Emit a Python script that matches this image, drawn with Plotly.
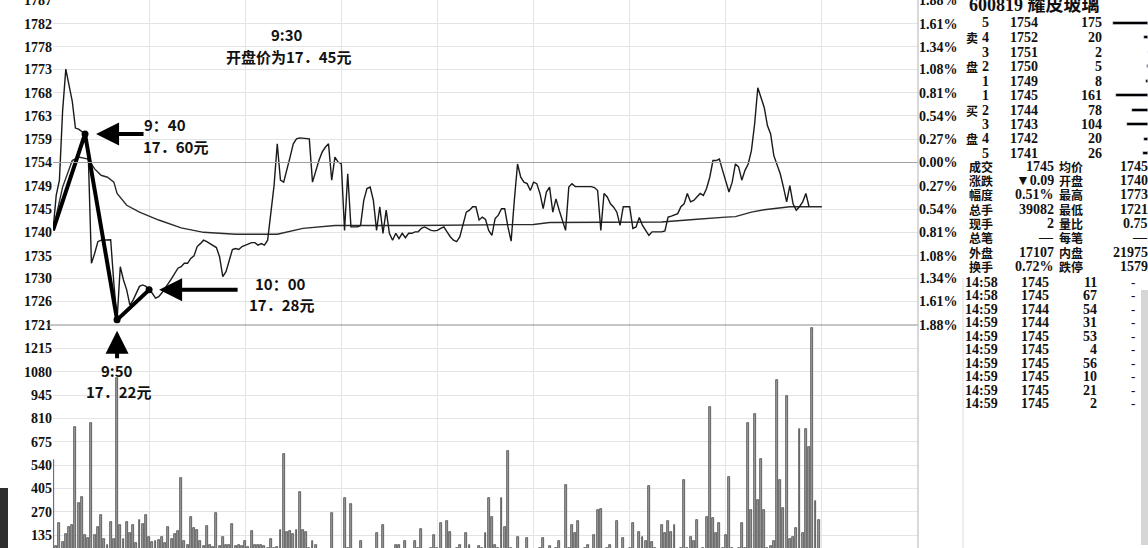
import plotly.graph_objects as go

W, H = 1148, 548

# ---------------- data ----------------
prev_close = 1754
pct_levels = [-1.88, -1.61, -1.34, -1.08, -0.81, -0.54, -0.27, 0.0,
              0.27, 0.54, 0.81, 1.08, 1.34, 1.61, 1.88]
price_tick_text = ["1721", "1726", "1730", "1735", "1740", "1745", "1749", "1754",
                   "1759", "1763", "1768", "1773", "1778", "1782", "1787"]
pct_tick_text = ["1.88%", "1.61%", "1.34%", "1.08%", "0.81%", "0.54%", "0.27%", "0.00%",
                 "0.27%", "0.54%", "0.81%", "1.08%", "1.34%", "1.61%", "1.88%"]
vol_tick_vals = [135, 270, 405, 540, 675, 810, 945, 1080, 1215]
time_grid = [30, 60, 90, 120, 150, 180, 210, 240]

price_values = [
    1740.2, 1747.3, 1750.4, 1764.5, 1773.0, 1769.6, 1766.5, 1761.0, 1760.8, 1760.3,
    1759.8, 1755.8, 1733.5, 1735.5, 1737.9, 1738.2, 1738.2, 1738.2, 1738.3, 1729.4,
    1722.0, 1732.8, 1730.1, 1728.1, 1725.0, 1726.0, 1727.4, 1728.8, 1729.1, 1728.8,
    1728.1, 1727.4, 1726.4, 1726.7, 1727.5, 1728.6, 1729.4, 1730.4, 1731.5, 1732.5,
    1732.8, 1733.5, 1733.5, 1734.5, 1735.0, 1736.9, 1737.5, 1738.2, 1737.9, 1737.5,
    1737.0, 1736.7, 1734.8, 1730.8, 1731.8, 1734.2, 1736.3, 1736.5, 1736.3, 1736.9,
    1737.2, 1737.5, 1737.7, 1737.7, 1737.2, 1737.5, 1737.2, 1738.2, 1743.6, 1749.3,
    1757.8, 1750.4, 1750.0, 1752.4, 1755.1, 1757.8, 1758.8, 1759.0, 1758.9, 1758.8,
    1758.8, 1750.0, 1752.4, 1754.4, 1756.1, 1757.1, 1757.8, 1750.4, 1755.1, 1754.1,
    1753.7, 1740.2, 1751.7, 1740.9, 1740.9, 1740.9, 1741.2, 1746.3, 1748.7, 1749.0,
    1746.3, 1740.2, 1745.0, 1739.6, 1744.3, 1739.6, 1738.2, 1739.6, 1738.5, 1739.6,
    1738.7, 1739.6, 1739.6, 1739.9, 1739.9, 1740.6, 1740.9, 1740.6, 1740.2, 1740.1,
    1740.2, 1740.6, 1740.9, 1739.9, 1738.9, 1738.2, 1737.9, 1738.9, 1741.6, 1743.9,
    1744.3, 1745.0, 1745.0, 1742.3, 1742.9, 1742.4, 1740.2, 1739.2, 1742.6, 1743.3,
    1744.6, 1744.6, 1740.9, 1738.0, 1746.3, 1753.7, 1751.0, 1750.0, 1749.7, 1748.3,
    1750.0, 1749.7, 1747.7, 1744.6, 1748.0, 1749.0, 1743.9, 1746.6, 1744.3, 1742.3,
    1740.2, 1749.0, 1749.7, 1749.1, 1749.1, 1749.1, 1749.1, 1749.1, 1749.1, 1748.9,
    1748.3, 1740.2, 1747.7, 1747.0, 1745.6, 1744.9, 1743.9, 1741.2, 1745.0, 1745.0,
    1745.0, 1740.6, 1740.9, 1742.8, 1741.2, 1740.2, 1739.2, 1739.9, 1739.9, 1739.9,
    1739.9, 1740.1, 1742.9, 1743.1, 1743.3, 1743.6, 1745.0, 1745.6, 1747.7, 1746.0,
    1746.3, 1747.0, 1747.7, 1747.3, 1748.7, 1751.0, 1754.4, 1754.4, 1754.7, 1752.4,
    1750.0, 1748.0, 1750.0, 1753.7, 1753.1, 1750.4, 1752.4, 1753.7, 1756.4, 1761.8,
    1769.2, 1767.2, 1765.2, 1761.5, 1759.8, 1755.4, 1753.4, 1751.7, 1749.0, 1746.0,
    1749.3, 1745.6, 1744.3, 1745.0, 1746.0, 1747.7, 1745.0,
]
price_minutes = list(range(len(price_values)))

avg_minutes = [0, 3, 6, 8, 11, 13, 15, 17, 19, 20, 23, 27, 33, 40, 47, 57, 70, 78, 88,
               114, 150, 155, 190, 195, 200, 210, 213, 218, 222, 230, 240]
avg_values = [1740.2, 1749.0, 1754.4, 1755.1, 1754.7, 1752.7, 1751.4, 1751.0, 1750.0,
              1747.7, 1745.3, 1743.9, 1742.3, 1740.7, 1739.8, 1739.4, 1739.4, 1740.6,
              1741.2, 1741.2, 1741.4, 1741.8, 1741.9, 1742.1, 1742.4, 1742.9, 1743.0,
              1743.9, 1744.4, 1745.0, 1745.0]

volume_values = [
    569, 70, 206, 95, 140, 180, 195, 758, 318, 357,
    135, 120, 785, 135, 183, 251, 113, 80, 208, 113,
    1042, 193, 113, 213, 146, 193, 90, 222, 199, 251,
    125, 95, 100, 105, 125, 90, 179, 110, 140, 160,
    467, 100, 80, 241, 174, 164, 100, 70, 186, 75,
    65, 260, 70, 125, 75, 75, 197, 70, 75, 70,
    100, 65, 160, 80, 75, 75, 70, 60, 110, 60,
    65, 164, 604, 150, 160, 140, 165, 386, 164, 150,
    60, 100, 80, 55, 50, 50, 55, 264, 50, 50,
    55, 347, 60, 314, 55, 50, 100, 50, 55, 50,
    50, 146, 55, 193, 50, 55, 50, 75, 75, 55,
    100, 50, 55, 100, 60, 172, 55, 50, 60, 135,
    60, 206, 55, 218, 154, 50, 60, 75, 55, 146,
    80, 55, 50, 70, 60, 146, 351, 241, 80, 60,
    351, 183, 623, 60, 55, 125, 50, 55, 119, 50,
    55, 50, 60, 119, 50, 70, 55, 60, 100, 55,
    424, 60, 195, 148, 218, 55, 60, 80, 55, 135,
    280, 286, 55, 60, 75, 55, 216, 50, 119, 55,
    60, 204, 55, 154, 125, 100, 419, 96, 60, 55,
    195, 146, 218, 154, 195, 55, 60, 453, 60, 125,
    100, 222, 55, 60, 241, 878, 232, 146, 204, 60,
    135, 473, 60, 55, 60, 206, 60, 785, 280, 835,
    338, 573, 280, 60, 70, 100, 1032, 453, 290, 941,
    113, 125, 174, 749, 146, 749, 646, 1330, 330, 222,
]
volume_minutes = list(range(len(volume_values)))

key_minutes = [0, 10, 20, 30]
callouts = [("9：40", "17．60元"), ("9:50", "17．22元"), ("10：00", "17．28元")]
open_note = ("9:30", "开盘价为17．45元")

stock_title = "600819 耀皮玻璃"
ask_levels = ["5", "4", "3", "2", "1"]
ask_prices = ["1754", "1752", "1751", "1750", "1749"]
ask_vols = [175, 20, 2, 5, 8]
bid_levels = ["1", "2", "3", "4", "5"]
bid_prices = ["1745", "1744", "1743", "1742", "1741"]
bid_vols = [161, 78, 104, 20, 26]
stat_labels_l = ["成交", "涨跌", "幅度", "总手", "现手", "总笔", "外盘", "换手"]
stat_values_l = ["1745", "▼0.09", "0.51%", "39082", "2", "—", "17107", "0.72%"]
stat_labels_r = ["均价", "开盘", "最高", "最低", "量比", "每笔", "内盘", "跌停"]
stat_values_r = ["1745", "1740", "1773", "1721", "0.75", "—", "21975", "1579"]
tick_times = ["14:58", "14:58", "14:59", "14:59", "14:59", "14:59", "14:59", "14:59", "14:59", "14:59"]
tick_prices = ["1745", "1745", "1744", "1744", "1745", "1745", "1745", "1745", "1745", "1745"]
tick_vols = [11, 67, 54, 31, 53, 4, 56, 10, 21, 2]

# ---------------- helpers ----------------
def px(x):
    return x / W

def py(y):
    return 1 - y / H

NUM_FONT = "Liberation Serif, Noto Sans CJK SC"
CJK_FONT = "Noto Sans CJK SC, Liberation Serif"

price_ticks = [prev_close * (1 + p / 100) for p in pct_levels]
split = py(325)
x_dom = [px(53), px(918)]

fig = go.Figure()

# volume bars
fig.add_trace(go.Bar(
    x=volume_minutes, y=volume_values, xaxis="x2", yaxis="y2",
    marker=dict(color="#9c9c9c", line=dict(color="#3a3a3a", width=0.7)),
    width=0.6, showlegend=False,
))
# average price line
fig.add_trace(go.Scatter(
    x=avg_minutes, y=avg_values, mode="lines", xaxis="x", yaxis="y",
    line=dict(color="#2b2b2b", width=1.4), showlegend=False,
))
# price line
fig.add_trace(go.Scatter(
    x=price_minutes, y=price_values, mode="lines", xaxis="x", yaxis="y",
    line=dict(color="#1a1a1a", width=1.4), showlegend=False,
))
# hand drawn trend lines through key points
key_prices = [price_values[m] for m in key_minutes]
fig.add_trace(go.Scatter(
    x=key_minutes, y=key_prices, mode="lines", xaxis="x", yaxis="y",
    line=dict(color="#000000", width=4), showlegend=False,
))
fig.add_trace(go.Scatter(
    x=key_minutes[1:], y=key_prices[1:], mode="markers", xaxis="x", yaxis="y",
    marker=dict(color="#000000", size=7), showlegend=False,
))
# percent axis companion (invisible trace)
fig.add_trace(go.Scatter(
    x=[0], y=[prev_close], mode="markers", xaxis="x", yaxis="y3",
    marker=dict(opacity=0), showlegend=False, hoverinfo="skip",
))
# order book depth bars
book_rows = list(range(10))
book_vols = ask_vols + bid_vols
fig.add_trace(go.Bar(
    x=book_vols, y=book_rows, orientation="h", xaxis="x4", yaxis="y4",
    marker=dict(color="#000000"), width=0.22, showlegend=False,
))

grid = "#e4e4e4"
axis_font = dict(family=NUM_FONT, size=14, color="#111111", weight="bold")

fig.update_layout(
    width=W, height=H,
    margin=dict(l=0, r=0, t=0, b=0),
    paper_bgcolor="white", plot_bgcolor="white",
    bargap=0,
    xaxis=dict(domain=x_dom, range=[0, 270], anchor="y", tickvals=time_grid,
               showticklabels=False, showgrid=True, gridcolor=grid, gridwidth=1,
               zeroline=False, showline=False, ticks=""),
    xaxis2=dict(domain=x_dom, range=[0, 270], anchor="y2", tickvals=time_grid,
                showticklabels=False, showgrid=True, gridcolor=grid, gridwidth=1,
                zeroline=False, showline=False, ticks=""),
    yaxis=dict(domain=[split, 1], range=[1720.95, 1787.05], anchor="x",
               tickvals=price_ticks, ticktext=price_tick_text, tickfont=axis_font,
               showgrid=True, gridcolor=grid, zeroline=False, showline=False,
               ticks="", automargin=False, ticklabeloverflow="allow"),
    yaxis2=dict(domain=[0, split], range=[60, 1350], anchor="x2",
                tickvals=vol_tick_vals, ticktext=[str(v) for v in vol_tick_vals],
                tickfont=axis_font, showgrid=True, gridcolor=grid, zeroline=False,
                showline=False, ticks="", automargin=False, ticklabeloverflow="allow"),
    yaxis3=dict(domain=[split, 1], range=[1720.95, 1787.05], overlaying="y",
                side="right", anchor="free", position=px(918),
                tickvals=price_ticks, ticktext=pct_tick_text, tickfont=axis_font,
                showgrid=False, zeroline=False, showline=False, ticks="",
                automargin=False, ticklabeloverflow="allow"),
    xaxis4=dict(domain=[px(1110), 1], range=[190, 0], anchor="y4", visible=False),
    yaxis4=dict(domain=[py(160.75), py(15.75)], range=[9.5, -0.5], anchor="x4",
                visible=False),
)

shapes = [
    # previous-close line
    dict(type="line", xref="x domain", yref="y", x0=0, x1=1, y0=prev_close, y1=prev_close,
         line=dict(color="#a0a0a0", width=1)),
    # panel separator
    dict(type="line", xref="paper", yref="paper", x0=px(47), x1=px(918), y0=split, y1=split,
         line=dict(color="#8c8c8c", width=1)),
    # right border of chart
    dict(type="line", xref="paper", yref="paper", x0=px(918), x1=px(918), y0=0, y1=1,
         line=dict(color="#b4b4b4", width=1)),
    # tick-list separator
    dict(type="line", xref="paper", yref="paper", x0=px(963), x1=px(963), y0=0, y1=py(278),
         line=dict(color="#dcdcdc", width=1)),
    # scroll strip
    dict(type="rect", xref="paper", yref="paper", x0=px(1141), x1=1, y0=py(545), y1=py(290),
         fillcolor="#d6d6d6", line=dict(width=0)),
    # dark corner block
    dict(type="rect", xref="paper", yref="paper", x0=0, x1=px(8), y0=0, y1=py(488),
         fillcolor="#2e2e2e", line=dict(width=0)),
]

ann = []

def txt(x, y, s, anchor="left", size=13, family=NUM_FONT, color="#111111"):
    ann.append(dict(x=px(x), y=py(y), xref="paper", yref="paper", text=s, showarrow=False,
                    xanchor=anchor, yanchor="middle", borderpad=0,
                    font=dict(family=family, size=size, color=color, weight="bold")))

# callout arrows
arrow_style = dict(showarrow=True, arrowhead=2, arrowwidth=4, arrowsize=1.15,
                   arrowcolor="#000000", xref="x", yref="y", text="")
ann.append(dict(x=key_minutes[1], y=key_prices[1], ax=60, ay=0, standoff=11, **arrow_style))
ann.append(dict(x=key_minutes[2], y=key_prices[2], ax=0, ay=40, standoff=11, **arrow_style))
ann.append(dict(x=key_minutes[3], y=key_prices[3], ax=90, ay=0, standoff=10, **arrow_style))

# callout texts
txt(287, 35, open_note[0], "center", 15, CJK_FONT)
txt(288, 57, open_note[1], "center", 15, CJK_FONT)
txt(165, 124, callouts[0][0], "center", 15, CJK_FONT)
txt(175, 146, callouts[0][1], "center", 15, CJK_FONT)
txt(117, 370, callouts[1][0], "center", 15, CJK_FONT)
txt(118, 391, callouts[1][1], "center", 15, CJK_FONT)
txt(280, 283, callouts[2][0], "center", 15, CJK_FONT)
txt(281, 304, callouts[2][1], "center", 15, CJK_FONT)

# right info panel
txt(968, 5, stock_title, "left", 18, NUM_FONT)
levels = ask_levels + bid_levels
prices = ask_prices + bid_prices
for i in range(10):
    yy = 23 + 14.5 * i
    txt(985, yy, levels[i], "center", 14)
    txt(1009, yy, prices[i], "left", 14)
    txt(1103, yy, str(book_vols[i]), "right", 14)
side_marks = {1: "卖", 3: "盘", 6: "买", 8: "盘"}
for i, ch in side_marks.items():
    txt(972, 23 + 14.5 * i, ch, "center", 12, CJK_FONT)

for i in range(len(stat_labels_l)):
    yy = 166 + 14.4 * i
    txt(968, yy, stat_labels_l[i], "left", 12, CJK_FONT)
    txt(1055, yy, stat_values_l[i], "right", 14)
    txt(1058, yy, stat_labels_r[i], "left", 12, CJK_FONT)
    txt(1149, yy, stat_values_r[i], "right", 14)

for i in range(len(tick_times)):
    yy = 282 + 13.5 * i
    txt(964, yy, tick_times[i], "left", 14)
    txt(1020, yy, tick_prices[i], "left", 14)
    txt(1098, yy, str(tick_vols[i]), "right", 14)
    txt(1133, yy, "-", "center", 13)

fig.update_layout(shapes=shapes, annotations=ann)
fig.write_html("out.html", config={"displayModeBar": False},
               post_script="document.body.style.margin='0';document.body.style.overflow='hidden';")
